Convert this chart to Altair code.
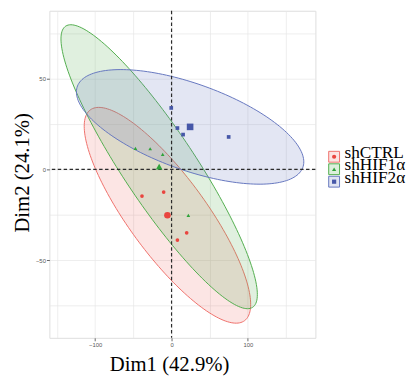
import numpy as np
import pandas as pd
import altair as alt

groups = ["shCTRL", "shHIF1α", "shHIF2α"]
line_colors = ["#EF716C", "#52AE4E", "#6677BF"]
point_colors = ["#E9453F", "#2FA33A", "#4657A8"]
shapes = ["circle", "triangle-up", "square"]

# individual samples (Dim1, Dim2)
ctrl_x = [-38.7, -10.3, 19.8, 7.7]
ctrl_y = [-14.7, -12.5, -35.0, -39.0]
hif1_x = [-47.3, -28.0, -11.6, 22.0]
hif1_y = [11.6, 11.4, 8.3, -25.4]
hif2_x = [-0.4, 7.7, 15.1, 74.8]
hif2_y = [33.9, 22.8, 19.2, 17.9]

# confidence ellipse shape: half-extent in x, half-extent in y, correlation
ell_sx = [109.0, 128.6, 148.9]
ell_sy = [59.5, 78.3, 31.6]
ell_r = [-0.825, -0.90, -0.61]

x_ticks = [-150, -100, -50, 0, 50, 100, 150]
y_ticks = [-75, -50, -25, 0, 25, 50, 75]
x_domain = [-160, 188.4]
y_domain = [-92.9, 87.5]

xs = [ctrl_x, hif1_x, hif2_x]
ys = [ctrl_y, hif1_y, hif2_y]

pts = []
for g, gx, gy in zip(groups, xs, ys):
    for a, b in zip(gx, gy):
        pts.append({"grp": g, "x": a, "y": b, "kind": "ind"})
    pts.append({"grp": g, "x": float(np.mean(gx)), "y": float(np.mean(gy)), "kind": "mean"})
pts = pd.DataFrame(pts)

t = np.linspace(0, 2 * np.pi, 181)
ell = []
for g, gx, gy, sx, sy, r in zip(groups, xs, ys, ell_sx, ell_sy, ell_r):
    cx, cy = np.mean(gx), np.mean(gy)
    for i, tt in enumerate(t):
        ell.append({"grp": g, "i": i,
                    "x": cx + sx * np.cos(tt),
                    "y": cy + sy * (r * np.cos(tt) + np.sqrt(1 - r * r) * np.sin(tt))})
ell = pd.DataFrame(ell)

leg = pd.DataFrame({"grp": groups})

xscale = alt.Scale(domain=x_domain, nice=False, zero=False)
yscale = alt.Scale(domain=y_domain, nice=False, zero=False)
line_scale = alt.Scale(domain=groups, range=line_colors)
pt_scale = alt.Scale(domain=groups, range=point_colors)
shape_scale = alt.Scale(domain=groups, range=shapes)

serif = "Liberation Serif"
sans = "Liberation Sans"

xaxis = alt.Axis(values=x_ticks, labelExpr="datum.value % 100 === 0 ? datum.label : ''",
                 tickColor={"condition": {"test": "datum.value % 100 === 0", "value": "#666666"}, "value": "transparent"},
                 gridColor="#e6e6e6", gridWidth=0.7, domain=False, tickSize=3, labelPadding=1,
                 labelFontSize=6, labelColor="#555555", labelFont=sans,
                 title="Dim1 (42.9%)", titleFont=serif, titleFontSize=21, titleFontWeight="normal",
                 titleColor="#000000", titleX=121.5, titleY=33, titleBaseline="alphabetic", titleAlign="center")
yaxis = alt.Axis(values=y_ticks, labelExpr="datum.value % 50 === 0 ? datum.label : ''",
                 tickColor={"condition": {"test": "datum.value % 50 === 0", "value": "#666666"}, "value": "transparent"},
                 gridColor="#e6e6e6", gridWidth=0.7, domain=False, tickSize=3, labelPadding=1,
                 labelFontSize=6, labelColor="#555555", labelFont=sans,
                 title="Dim2 (24.1%)", titleFont=serif, titleFontSize=21, titleFontWeight="normal",
                 titleColor="#000000", titleX=-21, titleY=164, titleBaseline="alphabetic", titleAlign="center",
                 titleAngle=270)

ellipses = alt.Chart(ell).mark_line(fillOpacity=0.18, strokeWidth=1).encode(
    x=alt.X("x:Q", scale=xscale, axis=xaxis),
    y=alt.Y("y:Q", scale=yscale, axis=yaxis),
    stroke=alt.Stroke("grp:N", scale=line_scale, legend=None),
    fill=alt.Fill("grp:N", scale=line_scale, legend=None),
    order=alt.Order("i:Q"),
)

vline = alt.Chart(pd.DataFrame({"x": [0]})).mark_rule(color="#2b2b2b", strokeDash=[3.5, 2.5], strokeWidth=1.2).encode(
    x=alt.X("x:Q", scale=xscale))
hline = alt.Chart(pd.DataFrame({"y": [0]})).mark_rule(color="#2b2b2b", strokeDash=[3.5, 2.5], strokeWidth=1.2).encode(
    y=alt.Y("y:Q", scale=yscale))

points = alt.Chart(pts).mark_point(filled=True, opacity=1).encode(
    x=alt.X("x:Q", scale=xscale),
    y=alt.Y("y:Q", scale=yscale),
    color=alt.Color("grp:N", scale=pt_scale, legend=None),
    shape=alt.Shape("grp:N", scale=shape_scale, legend=None),
    size=alt.Size("kind:N", scale=alt.Scale(domain=["ind", "mean"], range=[14, 45]), legend=None),
)

main = alt.layer(ellipses, vline, hline, points)

# legend drawn from its own row scale
leg_y = alt.Y("grp:N", scale=alt.Scale(domain=groups, range=[148.2, 173.5], padding=0), axis=None)
leg_box = alt.Chart(leg).mark_square(size=121, fillOpacity=0.2, strokeWidth=1, opacity=1).encode(
    x=alt.value(289), y=leg_y,
    fill=alt.Fill("grp:N", scale=line_scale, legend=None),
    stroke=alt.Stroke("grp:N", scale=line_scale, legend=None),
)
leg_sym = alt.Chart(leg).mark_point(filled=True, size=18, opacity=1).encode(
    x=alt.value(289), y=leg_y,
    color=alt.Color("grp:N", scale=pt_scale, legend=None),
    shape=alt.Shape("grp:N", scale=shape_scale, legend=None),
)
leg_txt = alt.Chart(leg).mark_text(align="left", baseline="alphabetic", dy=1, font=serif,
                                   fontSize=17.5, color="#000000").encode(
    x=alt.value(299.5), y=leg_y, text="grp:N")
legend = alt.layer(leg_box, leg_sym, leg_txt)

chart = alt.layer(main, legend).resolve_scale(y="independent").properties(
    width=270, height=332,
    autosize=alt.AutoSizeParams(type="none"),
    padding={"left": 42, "top": 0, "right": 95, "bottom": 40},
).configure_view(stroke=None).configure(background="white")

chart.save("out.html", embed_options={"renderer": "svg", "actions": False})
